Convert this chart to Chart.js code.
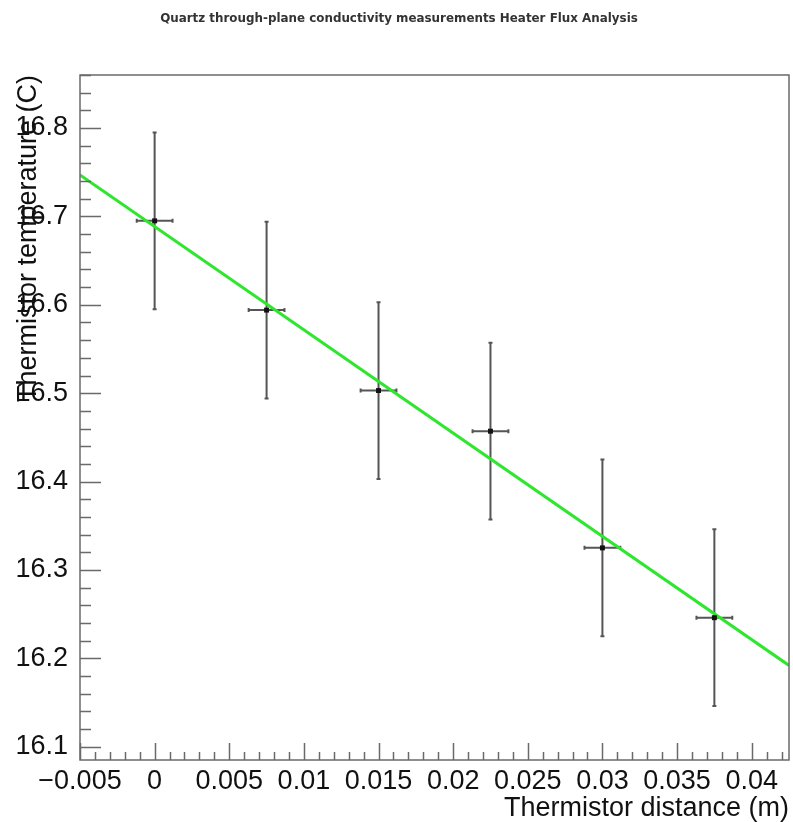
<!DOCTYPE html>
<html>
<head>
<meta charset="utf-8">
<title>Heater Flux Analysis</title>
<script src="https://cdn.jsdelivr.net/npm/chart.js@4.4.1/dist/chart.umd.min.js"></script>
<style>
  html, body { margin: 0; padding: 0; background: #fff; }
  #wrap { width: 793px; height: 822px; position: relative; }
</style>
</head>
<body>
<div id="wrap"><canvas id="fluxChart" width="793" height="822"></canvas></div>
<script>
const title = 'Quartz through-plane conductivity measurements Heater Flux Analysis'

// thermistor readings
const distance = [0, 0.0075, 0.015, 0.0225, 0.03, 0.0375]
const temperature = [16.695, 16.594, 16.503, 16.457, 16.325, 16.246]
const distanceErr = [0.0012, 0.0012, 0.0012, 0.0012, 0.0012, 0.0012]
const temperatureErr = [0.1, 0.1, 0.1, 0.1, 0.1, 0.1]

// linear fit, end points across the frame
const fitX = [-0.005, 0.0425]
const fitY = [16.747, 16.192]

const xTicks = [-0.005, 0, 0.005, 0.01, 0.015, 0.02, 0.025, 0.03, 0.035, 0.04]
const xTickLabels = ['\u22120.005', '0', '0.005', '0.01', '0.015', '0.02', '0.025', '0.03', '0.035', '0.04']
const yTicks = [16.1, 16.2, 16.3, 16.4, 16.5, 16.6, 16.7, 16.8]
const yTickLabels = ['16.1', '16.2', '16.3', '16.4', '16.5', '16.6', '16.7', '16.8']

const X_MIN = -0.005, X_MAX = 0.0425
const Y_MIN = 16.085, Y_MAX = 16.86

const FONT = 'Liberation Sans, Arial, Helvetica, sans-serif'

// error bars behind the markers
const errorBars = {
    id: 'errorBars',
    beforeDatasetsDraw(chart) {
        const { ctx, scales: { x, y } } = chart
        ctx.save()
        ctx.strokeStyle = '#555'
        ctx.lineWidth = 2
        for (let i = 0; i < distance.length; i++) {
            const px = x.getPixelForValue(distance[i])
            const py = y.getPixelForValue(temperature[i])
            const yTop = y.getPixelForValue(temperature[i] + temperatureErr[i])
            const yBot = y.getPixelForValue(temperature[i] - temperatureErr[i])
            const xL = x.getPixelForValue(distance[i] - distanceErr[i])
            const xR = x.getPixelForValue(distance[i] + distanceErr[i])
            ctx.beginPath()
            ctx.moveTo(px, yTop); ctx.lineTo(px, yBot)
            ctx.moveTo(xL, py); ctx.lineTo(xR, py)
            ctx.stroke()
            // small end caps
            ctx.beginPath()
            ctx.moveTo(px - 2, yTop); ctx.lineTo(px + 2, yTop)
            ctx.moveTo(px - 2, yBot); ctx.lineTo(px + 2, yBot)
            ctx.moveTo(xL, py - 2); ctx.lineTo(xL, py + 2)
            ctx.moveTo(xR, py - 2); ctx.lineTo(xR, py + 2)
            ctx.stroke()
        }
        ctx.restore()
    }
}

// frame and inward ticks
const frame = {
    id: 'frame',
    afterDraw(chart) {
        const { ctx, chartArea: a, scales: { x, y } } = chart
        ctx.save()
        ctx.strokeStyle = '#6a6a6a'
        ctx.lineWidth = 1.5
        ctx.strokeRect(a.left, a.top, a.right - a.left, a.bottom - a.top)

        ctx.beginPath()
        for (let v = -0.005; v <= X_MAX + 1e-9; v += 0.001) {
            const major = Math.abs(v / 0.005 - Math.round(v / 0.005)) < 1e-6
            const px = Math.round(x.getPixelForValue(v)) + 0.5
            ctx.moveTo(px, a.bottom)
            ctx.lineTo(px, a.bottom - (major ? 17 : 8))
        }
        for (let v = 16.1; v <= Y_MAX + 1e-9; v += 0.02) {
            const major = Math.abs(v / 0.1 - Math.round(v / 0.1)) < 1e-6
            const py = Math.round(y.getPixelForValue(v)) + 0.5
            ctx.moveTo(a.left, py)
            ctx.lineTo(a.left + (major ? 21 : 11), py)
        }
        ctx.stroke()
        ctx.restore()
    }
}

const ctx = document.getElementById('fluxChart')

const fluxChart = new Chart(ctx, {
    type: 'scatter',
    data: {
        datasets: [
            {
                label: 'data',
                data: distance.map((d, i) => ({ x: d, y: temperature[i] })),
                pointStyle: 'rect',
                pointRadius: 3.5,
                backgroundColor: '#111',
                borderColor: '#111',
                borderWidth: 0,
                order: 0
            },
            {
                type: 'line',
                label: 'fit',
                data: fitX.map((d, i) => ({ x: d, y: fitY[i] })),
                borderColor: '#2ee62e',
                borderWidth: 3,
                pointRadius: 0,
                fill: false,
                order: 1
            }
        ]
    },
    options: {
        responsive: false,
        animation: false,
        layout: { padding: { top: 75, right: 2, bottom: 0, left: 0 } },
        plugins: {
            legend: { display: false },
            title: { display: false },
            tooltip: { enabled: false }
        },
        scales: {
            x: {
                type: 'linear',
                min: X_MIN,
                max: X_MAX,
                grid: { display: false },
                border: { display: false },
                afterBuildTicks: s => { s.ticks = xTicks.map(v => ({ value: v })) },
                afterFit: s => { s.height = 62 },
                ticks: {
                    autoSkip: false,
                    maxRotation: 0,
                    padding: -3,
                    color: '#111',
                    font: { family: FONT, size: 27 },
                    callback: v => xTickLabels[xTicks.findIndex(t => Math.abs(t - v) < 1e-9)]
                },
                title: {
                    display: true,
                    text: 'Thermistor distance (m)',
                    align: 'end',
                    color: '#111',
                    font: { family: FONT, size: 27, lineHeight: 1 },
                    padding: { top: 0, bottom: 0 }
                }
            },
            y: {
                type: 'linear',
                min: Y_MIN,
                max: Y_MAX,
                grid: { display: false },
                border: { display: false },
                afterBuildTicks: s => { s.ticks = yTicks.map(v => ({ value: v })) },
                afterFit: s => { s.width = 80 },
                ticks: {
                    autoSkip: false,
                    padding: 4,
                    color: '#111',
                    font: { family: FONT, size: 27 },
                    callback: v => yTickLabels[yTicks.findIndex(t => Math.abs(t - v) < 1e-9)]
                },
                title: {
                    display: true,
                    text: 'Thermistor temperature (C)',
                    align: 'end',
                    color: '#111',
                    font: { family: FONT, size: 27, lineHeight: 1 },
                    padding: { top: 15, bottom: 0 }
                }
            }
        }
    },
    plugins: [errorBars, frame, {
        id: 'topTitle',
        afterDraw(chart) {
            const c = chart.ctx
            c.save()
            c.fillStyle = '#333'
            c.font = 'bold 11.9px "DejaVu Sans", sans-serif'
            c.textAlign = 'center'
            c.textBaseline = 'middle'
            c.fillText(title, 399, 19)
            c.restore()
        }
    }]
})
</script>
</body>
</html>
